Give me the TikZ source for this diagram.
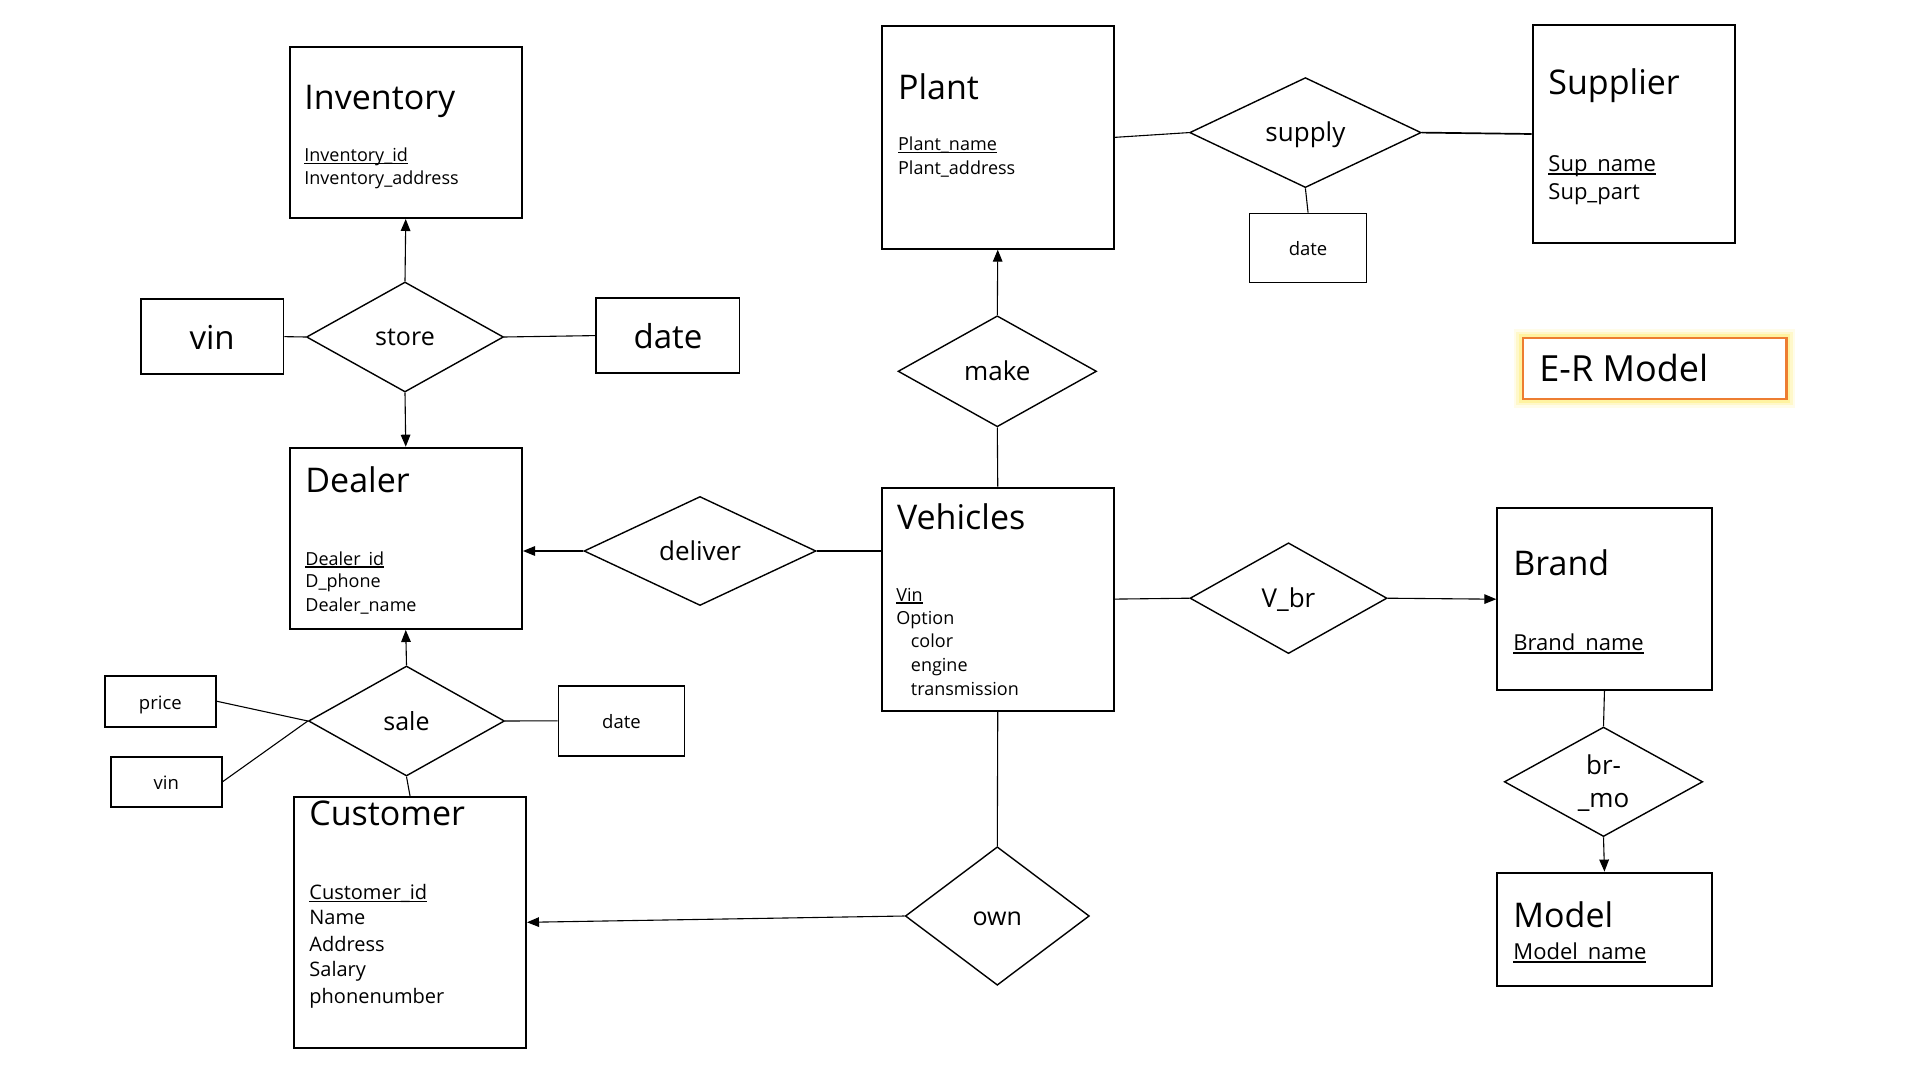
\documentclass[tikz,border=0pt]{standalone}
\usepackage{fontspec}
\setmainfont{Open Sans}
\usetikzlibrary{shapes.geometric,arrows.meta}
\definecolor{erorange}{HTML}{ED7D31}
\definecolor{glowcol}{HTML}{FFEE70}
\newsavebox\ulbox
\newcommand\keyattr[1]{\sbox\ulbox{#1}\rlap{\rule[-0.15em]{\wd\ulbox}{0.07em}}\usebox\ulbox}
\newcommand\fsz[1]{\fontsize{#1}{#1}\selectfont}
\tikzset{
  entity/.style={draw, line width=1pt, inner sep=0pt, anchor=north west},
  rel/.style={draw, diamond, line width=0.7pt, inner sep=0pt, font=\fsz{13pt}, text height=9pt, text depth=0pt},
  smallbox/.style={draw, line width=0.85pt, inner sep=0pt, font=\fsz{9.25pt}, text height=7.8pt, text depth=0pt},
  bigbox/.style={draw, line width=0.85pt, inner sep=0pt, font=\fsz{16.5pt}, text height=13.3pt, text depth=0pt},
  conn/.style={line width=0.55pt},
  arr/.style={conn, -{Triangle[length=6pt,width=4.8pt]}},
  ttl/.style={anchor=base west, inner sep=0pt, font=\fsz{17pt}},
  att/.style={anchor=base west, inner sep=0pt, font=\fsz{9pt}},
  attl/.style={anchor=base west, inner sep=0pt, font=\fsz{11pt}},
  attm/.style={anchor=base west, inner sep=0pt, font=\fsz{10pt}},
}
\newcommand\entitybox[5]{\node[entity, minimum width={(#4-#2)*0.5pt}, minimum height={(#5-#3)*0.5pt}] (#1) at (#2,#3) {};}
\newcommand\reln[6]{\node[rel, minimum width={#4*0.5pt}, minimum height={#5*0.5pt}] (#1) at (#2,#3) {#6};}
\newcommand\abox[7]{\node[#6, minimum width={(#4-#2)*0.5pt}, minimum height={(#5-#3)*0.5pt}] (#1) at ({(#2+#4)/2},{(#3+#5)/2}) {#7};}
\begin{document}
\begin{tikzpicture}[x=0.5pt, y=-0.5pt]
\useasboundingbox[fill=white] (0,0) rectangle (1920,1080);

% ---------- entities ----------
\entitybox{inv}{288.5}{46.5}{521}{217}
\entitybox{plant}{880.5}{25}{1113}{247.7}
\entitybox{supplier}{1531.7}{24}{1733.5}{242}
\entitybox{dealer}{288.5}{446.7}{521}{628}
\entitybox{veh}{880.5}{486.7}{1113}{709.5}
\entitybox{brand}{1496.3}{507.3}{1710.6}{689.1}
\entitybox{cust}{293}{795.8}{525}{1046.8}
\entitybox{model}{1496.3}{871.6}{1710.6}{985}

% ---------- entity texts ----------
\node[ttl] (inv-t) at (304,109.5) {Inventory};
\node[att] (inv-a1) at (304,161.2) {\keyattr{Inventory\_id}};
\node[att] (inv-a2) at (304,184.9) {Inventory\_address};

\node[ttl] (plant-t) at (897.7,100) {Plant};
\node[att] (plant-a1) at (897.7,150.7) {\keyattr{Plant\_name}};
\node[att] (plant-a2) at (897.7,175) {Plant\_address};

\node[ttl] (sup-t) at (1548,95) {Supplier};
\node[attl] (sup-a1) at (1548,171.7) {\keyattr{Sup\_name}};
\node[attl] (sup-a2) at (1548,200) {Sup\_part};

\node[ttl] (dealer-t) at (305,492.7) {Dealer};
\node[att] (dealer-a1) at (305,565) {\keyattr{Dealer\_id}};
\node[att] (dealer-a2) at (305,587.7) {D\_phone};
\node[att] (dealer-a3) at (305,611) {Dealer\_name};

\node[ttl] (veh-t) at (896.7,529.3) {Vehicles};
\node[att] (veh-a1) at (896,601) {\keyattr{Vin}};
\node[att] (veh-a2) at (896,624.3) {Option};
\node[att] (veh-a3) at (910.5,647.3) {color};
\node[att] (veh-a4) at (910.5,671) {engine};
\node[att] (veh-a5) at (910.5,695) {transmission};

\node[ttl] (brand-t) at (1513,575.5) {Brand};
\node[attl] (brand-a1) at (1513,650.2) {\keyattr{Brand\_name}};

\node[ttl] (cust-t) at (309,825) {Customer};
\node[attm] (cust-a1) at (309,899) {\keyattr{Customer\_id}};
\node[attm] (cust-a2) at (309,924) {Name};
\node[attm] (cust-a3) at (309,951) {Address};
\node[attm] (cust-a4) at (309,976.7) {Salary};
\node[attm] (cust-a5) at (309,1003.3) {phonenumber};

\node[ttl] (model-t) at (1513,927.4) {Model};
\node[attl] (model-a1) at (1513,959.5) {\keyattr{Model\_name}};

% ---------- relationships ----------
\reln{store}{405}{337}{197}{110}{\fsz{12.5pt}store}
\reln{supply}{1305.4}{132.6}{231.5}{110}{supply}
\reln{make}{997.3}{371.3}{198.5}{111}{make}
\reln{deliver}{700}{551}{232}{109}{deliver}
\reln{vbr}{1288.5}{598.2}{197}{110.8}{V\_br}
\reln{sale}{406.5}{721}{196}{110}{\fsz{12.5pt}sale}
\reln{own}{997.3}{916}{184}{138.5}{\fsz{12.5pt}own}
\reln{brmo}{1603.5}{781.8}{198.4}{109.5}{}
\node[anchor=base, inner sep=0pt, font=\fsz{13pt}] (brmo-t1) at (1603.5,774.2) {br-};
\node[anchor=base, inner sep=0pt, font=\fsz{13pt}] (brmo-t2) at (1603.5,807.9) {\_mo};

% ---------- attribute boxes ----------
\abox{vin1}{140.8}{299.3}{283.5}{374}{bigbox}{vin}
\abox{date1}{596.3}{298.2}{739.6}{373}{bigbox}{date}
\abox{date2}{1249.6}{213.5}{1366.5}{282.4}{smallbox}{date}
\abox{price}{104.7}{675.7}{216}{726.8}{smallbox}{price}
\abox{vin2}{111}{756.7}{221.7}{806.8}{smallbox}{vin}
\abox{date3}{558.4}{685.7}{684.5}{755.9}{smallbox}{date}

% ---------- E-R Model title box ----------
\node[inner sep=0pt, minimum width={262.7*0.5pt}, minimum height={60*0.5pt}] (er) at (1654.65,368.5) {};
\draw[glowcol, line width=9pt, opacity=0.15] (er.north west) rectangle (er.south east);
\draw[glowcol, line width=6.5pt, opacity=0.25] (er.north west) rectangle (er.south east);
\draw[glowcol, line width=4pt, opacity=0.45] (er.north west) rectangle (er.south east);
\fill[white] (er.north west) rectangle (er.south east);
\draw[erorange, line width=1.25pt] (er.north west) rectangle (er.south east);
\node[anchor=base west, inner sep=0pt, font=\fsz{18pt}] (er-t) at (1539,381.6) {E-R Model};

% ---------- connectors ----------
\draw[arr] (store.north) -- (inv.south);
\draw[arr] (store.south) -- (dealer.north);
\draw[conn] (vin1.east) -- (store.west);
\draw[conn] (store.east) -- (date1.west);
\draw[arr] (make.north) -- (plant.south);
\draw[conn] (make.south) -- (veh.north);
\draw[conn] (plant.east) -- (supply.west);
\draw[conn, line width=0.85pt] (supply.east) -- (supplier.west);
\draw[conn] (supply.south) -- (date2.north);
\draw[arr] (deliver.west) -- (deliver.west -| dealer.east);
\draw[conn] (deliver.east) -- (deliver.east -| veh.west);
\draw[conn] (veh.east) -- (vbr.west);
\draw[arr] (vbr.east) -- (brand.west);
\draw[conn] (brand.south) -- (brmo.north);
\draw[arr] (brmo.south) -- (model.north);
\draw[conn] (veh.south) -- (own.north);
\draw[arr] (own.west) -- (cust.east);
\draw[arr] (sale.north) -- (dealer.south);
\draw[conn] (sale.south) -- (cust.north);
\draw[conn] (price.east) -- (sale.west);
\draw[conn] (vin2.east) -- (sale.west);
\draw[conn] (sale.east) -- (date3.west);
\end{tikzpicture}
\end{document}
